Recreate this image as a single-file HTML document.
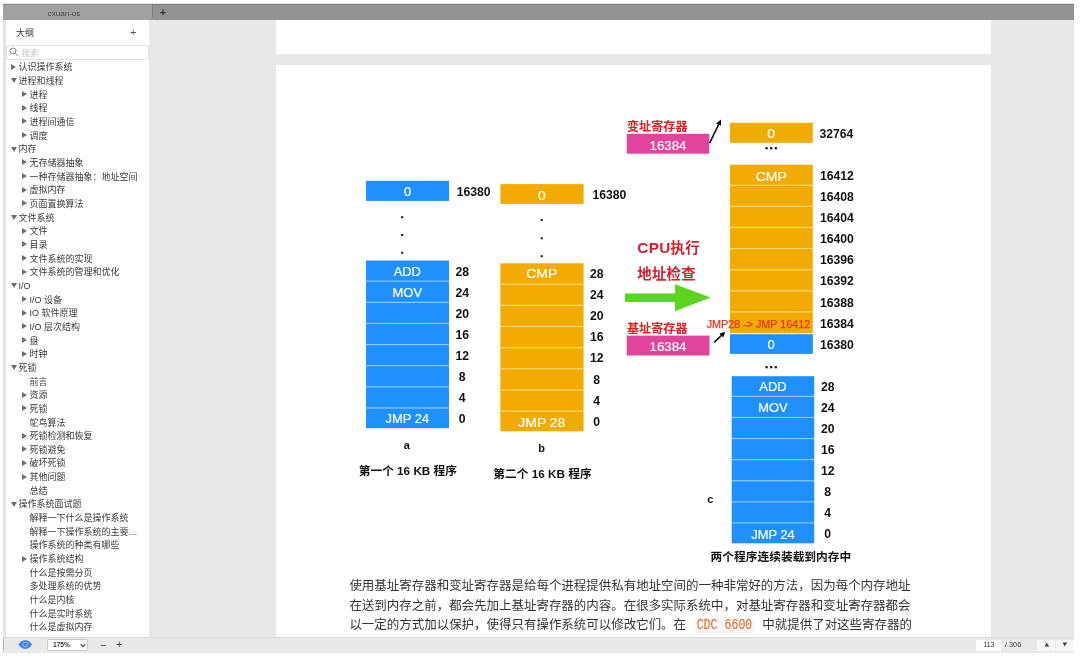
<!DOCTYPE html>
<html lang="zh-CN"><head><meta charset="utf-8"><title>cxuan-os</title>
<style>
html,body{margin:0;padding:0;background:#fff;}
body{width:1080px;height:659px;overflow:hidden;position:relative;font-family:"Liberation Sans","Noto Sans CJK SC",sans-serif;}
#app{position:absolute;left:3px;top:3px;width:1071px;height:649.5px;background:#e7e7e7;overflow:hidden;will-change:transform;}
#app *{position:absolute;box-sizing:border-box;}
#topbar{left:0;top:-0.5px;width:1071px;height:16.5px;background:#939393;border-top:1px solid #7d7d7d;}
#tab{left:0;top:-0.5px;width:150px;height:16.5px;background:#a1a1a1;border-top:1px solid #8a8a8a;border-right:1px solid #7e7e7e;border-radius:0 0 4px 0;}
#tabtxt{left:0;top:3.5px;width:122px;text-align:center;font-size:8.1px;line-height:11px;color:#4a4a4a;}
#tabplus{left:156.8px;top:2.2px;font-size:11px;line-height:12px;color:#333;font-weight:bold;}
#side{left:0;top:16px;width:146px;height:616.5px;background:#fff;border-left:3px solid #e3e3e3;}
#sidetitle{left:13px;top:22.5px;font-size:9px;line-height:12px;color:#333;}
#sideplus{left:126px;top:21px;font-size:11px;line-height:13px;color:#555;}
#search{left:3px;top:40.5px;width:142.5px;height:15px;border:1px solid #e2e2e2;border-radius:2px;background:#fff;}
#searchtxt{left:21.5px;top:42.5px;font-size:8.5px;line-height:12px;color:#c4c4c4;}
.tr{font-size:9px;line-height:14px;color:#3a3a3a;white-space:nowrap;}
.tc{width:0;height:0;border-left:5.4px solid #6e6e6e;border-top:3.2px solid transparent;border-bottom:3.2px solid transparent;}
.to{width:0;height:0;border-top:5px solid #6e6e6e;border-left:3.1px solid transparent;border-right:3.1px solid transparent;}
#p1{left:273px;top:16px;width:715px;height:34px;background:#fff;}
#p2{left:273px;top:61px;width:715px;height:571.5px;background:#fff;}
#dia{left:0;top:0;}
#dia text{font-family:"Liberation Sans","Noto Sans CJK SC",sans-serif;}
.w{fill:#fff;font-size:12.5px;stroke:#fff;stroke-width:0.2px;}
.o{font-size:13.3px;}
.p{font-size:13.3px;}
.b{fill:#111;font-size:12.2px;font-weight:bold;}
.s{font-size:11px;}
.cap{fill:#111;font-size:11.72px;font-weight:bold;}
.r12{fill:#dc2222;font-size:12.1px;font-weight:bold;}
.r14{fill:#d3202c;font-size:14.4px;font-weight:bold;letter-spacing:0.25px;}
.rj{fill:#ea3323;font-size:10.75px;stroke:#ea3323;stroke-width:0.25px;}
.para{left:346.4px;width:600px;font-size:12.485px;line-height:19px;color:#333;white-space:nowrap;}
.code{position:static !important;display:inline-block;vertical-align:baseline;font-family:"Liberation Mono",monospace;font-size:11.6px;line-height:14px;height:14.5px;color:#e0661f;background:#f7f7f7;padding:0 2.4px;margin:0 7.6px 0 8.2px;border-radius:2px;}
.code b{position:static !important;display:inline-block;font-weight:normal;transform:scale(1.0,1.27);transform-origin:50% 78%;}
#bot{left:0;top:632.5px;width:1071px;height:16px;background:#e9e9e9;border-top:1px solid #dadada;}
#zoom{left:43.6px;top:635.4px;width:41.7px;height:11.7px;background:#fff;border:1px solid #c9c9c9;border-radius:1.5px;}
#zoomtxt{left:50px;top:636.2px;font-weight:bold;font-size:6.6px;line-height:10px;color:#333;}
#minus{left:97px;top:634.5px;font-size:11px;line-height:12px;color:#444;}
#plus{left:113px;top:634.1px;font-size:11px;line-height:12px;color:#444;}
#pg{left:973.3px;top:636px;width:25px;height:10.5px;background:#fff;text-align:center;font-size:7px;line-height:10.5px;color:#333;}
#pgt{left:1002px;top:636px;font-size:7.3px;line-height:10.5px;color:#444;}
.nb{top:636px;width:18px;height:10.5px;background:#f7f7f7;}
</style></head><body>
<div id="app"><div id="in" style="left:0;top:1px;width:1071px;height:648.5px">
<div id="topbar"></div>
<div id="tab"></div><div id="tabtxt">cxuan-os</div><div id="tabplus">+</div>
<div id="side"></div>
<div id="p1"></div><div id="p2"></div>
<div id="tree" style="left:-3px;top:-4px;width:149px;height:640px;overflow:hidden">
<div id="sidetitle" style="left:16px;top:26.5px">大纲</div>
<div id="sideplus" style="left:130px;top:25.5px">+</div>
<div id="search" style="left:6px;top:44.5px"></div>
<svg style="left:8.5px;top:47px" width="10" height="10" viewBox="0 0 10 10"><circle cx="4" cy="4" r="3" fill="none" stroke="#7a7a7a" stroke-width="0.9"/><path d="M6.2 6.2L9 9" stroke="#7a7a7a" stroke-width="0.9"/></svg>
<div id="searchtxt" style="left:21.5px;top:46.5px">搜索</div>
<i class="tc" style="left:11.0px;top:63.7px"></i><div class="tr" style="left:18.5px;top:60.3px">认识操作系统</div>
<i class="to" style="left:10.5px;top:78.2px"></i><div class="tr" style="left:18.5px;top:74.0px">进程和线程</div>
<i class="tc" style="left:22.3px;top:91.0px"></i><div class="tr" style="left:29.5px;top:87.6px">进程</div>
<i class="tc" style="left:22.3px;top:104.7px"></i><div class="tr" style="left:29.5px;top:101.3px">线程</div>
<i class="tc" style="left:22.3px;top:118.3px"></i><div class="tr" style="left:29.5px;top:114.9px">进程间通信</div>
<i class="tc" style="left:22.3px;top:132.0px"></i><div class="tr" style="left:29.5px;top:128.6px">调度</div>
<i class="to" style="left:10.5px;top:146.5px"></i><div class="tr" style="left:18.5px;top:142.3px">内存</div>
<i class="tc" style="left:22.3px;top:159.3px"></i><div class="tr" style="left:29.5px;top:155.9px">无存储器抽象</div>
<i class="tc" style="left:22.3px;top:173.0px"></i><div class="tr" style="left:29.5px;top:169.6px">一种存储器抽象：地址空间</div>
<i class="tc" style="left:22.3px;top:186.6px"></i><div class="tr" style="left:29.5px;top:183.2px">虚拟内存</div>
<i class="tc" style="left:22.3px;top:200.3px"></i><div class="tr" style="left:29.5px;top:196.9px">页面置换算法</div>
<i class="to" style="left:10.5px;top:214.8px"></i><div class="tr" style="left:18.5px;top:210.6px">文件系统</div>
<i class="tc" style="left:22.3px;top:227.6px"></i><div class="tr" style="left:29.5px;top:224.2px">文件</div>
<i class="tc" style="left:22.3px;top:241.3px"></i><div class="tr" style="left:29.5px;top:237.9px">目录</div>
<i class="tc" style="left:22.3px;top:254.9px"></i><div class="tr" style="left:29.5px;top:251.5px">文件系统的实现</div>
<i class="tc" style="left:22.3px;top:268.6px"></i><div class="tr" style="left:29.5px;top:265.2px">文件系统的管理和优化</div>
<i class="to" style="left:10.5px;top:283.1px"></i><div class="tr" style="left:18.5px;top:278.9px">I/O</div>
<i class="tc" style="left:22.3px;top:295.9px"></i><div class="tr" style="left:29.5px;top:292.5px">I/O 设备</div>
<i class="tc" style="left:22.3px;top:309.6px"></i><div class="tr" style="left:29.5px;top:306.2px">IO 软件原理</div>
<i class="tc" style="left:22.3px;top:323.2px"></i><div class="tr" style="left:29.5px;top:319.8px">I/O 层次结构</div>
<i class="tc" style="left:22.3px;top:336.9px"></i><div class="tr" style="left:29.5px;top:333.5px">盘</div>
<i class="tc" style="left:22.3px;top:350.6px"></i><div class="tr" style="left:29.5px;top:347.2px">时钟</div>
<i class="to" style="left:10.5px;top:365.0px"></i><div class="tr" style="left:18.5px;top:360.8px">死锁</div>
<div class="tr" style="left:29.5px;top:374.5px">前言</div>
<i class="tc" style="left:22.3px;top:391.5px"></i><div class="tr" style="left:29.5px;top:388.1px">资源</div>
<i class="tc" style="left:22.3px;top:405.2px"></i><div class="tr" style="left:29.5px;top:401.8px">死锁</div>
<div class="tr" style="left:29.5px;top:415.5px">鸵鸟算法</div>
<i class="tc" style="left:22.3px;top:432.5px"></i><div class="tr" style="left:29.5px;top:429.1px">死锁检测和恢复</div>
<i class="tc" style="left:22.3px;top:446.2px"></i><div class="tr" style="left:29.5px;top:442.8px">死锁避免</div>
<i class="tc" style="left:22.3px;top:459.8px"></i><div class="tr" style="left:29.5px;top:456.4px">破坏死锁</div>
<i class="tc" style="left:22.3px;top:473.5px"></i><div class="tr" style="left:29.5px;top:470.1px">其他问题</div>
<div class="tr" style="left:29.5px;top:483.8px">总结</div>
<i class="to" style="left:10.5px;top:501.6px"></i><div class="tr" style="left:18.5px;top:497.4px">操作系统面试题</div>
<div class="tr" style="left:29.5px;top:511.1px">解释一下什么是操作系统</div>
<div class="tr" style="left:29.5px;top:524.7px">解释一下操作系统的主要…</div>
<div class="tr" style="left:29.5px;top:538.4px">操作系统的种类有哪些</div>
<i class="tc" style="left:22.3px;top:555.5px"></i><div class="tr" style="left:29.5px;top:552.1px">操作系统结构</div>
<div class="tr" style="left:29.5px;top:565.7px">什么是按需分页</div>
<div class="tr" style="left:29.5px;top:579.4px">多处理系统的优势</div>
<div class="tr" style="left:29.5px;top:593.0px">什么是内核</div>
<div class="tr" style="left:29.5px;top:606.7px">什么是实时系统</div>
<div class="tr" style="left:29.5px;top:620.4px">什么是虚拟内存</div>
</div>
<svg id="dia" style="left:-3px;top:-4px" width="1080" height="640" viewBox="0 0 1080 640">
<rect x="366" y="180.8" width="83" height="20.10" fill="#1e90ff"/>
<rect x="366" y="260.5" width="83" height="167.70" fill="#1e90ff"/><rect x="366" y="280.60" width="83" height="1.2" fill="#8ccaff"/><rect x="366" y="301.73" width="83" height="1.2" fill="#8ccaff"/><rect x="366" y="322.86" width="83" height="1.2" fill="#8ccaff"/><rect x="366" y="343.99" width="83" height="1.2" fill="#8ccaff"/><rect x="366" y="365.12" width="83" height="1.2" fill="#8ccaff"/><rect x="366" y="386.25" width="83" height="1.2" fill="#8ccaff"/><rect x="366" y="407.38" width="83" height="1.2" fill="#8ccaff"/>
<rect x="500.4" y="184.1" width="83.2" height="19.80" fill="#f2ab02"/>
<rect x="500.4" y="263.3" width="83.2" height="168.00" fill="#f2ab02"/><rect x="500.4" y="283.60" width="83.2" height="1.2" fill="#ffd978"/><rect x="500.4" y="304.75" width="83.2" height="1.2" fill="#ffd978"/><rect x="500.4" y="325.90" width="83.2" height="1.2" fill="#ffd978"/><rect x="500.4" y="347.05" width="83.2" height="1.2" fill="#ffd978"/><rect x="500.4" y="368.20" width="83.2" height="1.2" fill="#ffd978"/><rect x="500.4" y="389.35" width="83.2" height="1.2" fill="#ffd978"/><rect x="500.4" y="410.50" width="83.2" height="1.2" fill="#ffd978"/>
<rect x="730" y="122.8" width="82.8" height="20.00" fill="#f2ab02"/>
<rect x="730" y="164.7" width="82.8" height="168.50" fill="#f2ab02"/><rect x="730" y="184.70" width="82.8" height="1.2" fill="#ffd978"/><rect x="730" y="205.80" width="82.8" height="1.2" fill="#ffd978"/><rect x="730" y="226.90" width="82.8" height="1.2" fill="#ffd978"/><rect x="730" y="248.00" width="82.8" height="1.2" fill="#ffd978"/><rect x="730" y="269.10" width="82.8" height="1.2" fill="#ffd978"/><rect x="730" y="290.20" width="82.8" height="1.2" fill="#ffd978"/><rect x="730" y="311.30" width="82.8" height="1.2" fill="#ffd978"/>
<rect x="730" y="334.2" width="82.8" height="19.70" fill="#1e90ff"/>
<rect x="731.7" y="376.2" width="82.5" height="167.10" fill="#1e90ff"/><rect x="731.7" y="395.80" width="82.5" height="1.2" fill="#8ccaff"/><rect x="731.7" y="416.88" width="82.5" height="1.2" fill="#8ccaff"/><rect x="731.7" y="437.96" width="82.5" height="1.2" fill="#8ccaff"/><rect x="731.7" y="459.04" width="82.5" height="1.2" fill="#8ccaff"/><rect x="731.7" y="480.12" width="82.5" height="1.2" fill="#8ccaff"/><rect x="731.7" y="501.20" width="82.5" height="1.2" fill="#8ccaff"/><rect x="731.7" y="522.28" width="82.5" height="1.2" fill="#8ccaff"/>
<rect x="626.7" y="133.8" width="82.6" height="19.9" fill="#e2439b"/>
<rect x="626.7" y="335.6" width="82.8" height="19.9" fill="#e2439b"/>
<path d="M625 293.6H675V284.2L710.6 297.5L675 311.3V302H625Z" fill="#5bd51e"/>
<defs><marker id="ah" viewBox="0 0 10 10" refX="6" refY="5" markerWidth="5.6" markerHeight="5.6" markerUnits="userSpaceOnUse" orient="auto"><path d="M0 0L10 5L0 10z" fill="#0a0a0a"/></marker></defs>
<line x1="709.5" y1="143.3" x2="720" y2="121.6" stroke="#0a0a0a" stroke-width="1.5" marker-end="url(#ah)"/>
<line x1="714.2" y1="342.4" x2="723.6" y2="333.3" stroke="#0a0a0a" stroke-width="1.5" marker-end="url(#ah)"/>
<text transform="translate(407.50,196.15) scale(1.035,1)" class="w" text-anchor="middle">0</text>
<text transform="translate(407.30,275.65) scale(1.035,1)" class="w" text-anchor="middle">ADD</text>
<text transform="translate(407.30,296.75) scale(1.035,1)" class="w" text-anchor="middle">MOV</text>
<text transform="translate(407.30,423.25) scale(1.035,1)" class="w" text-anchor="middle">JMP 24</text>
<text transform="translate(541.80,199.75) scale(1.05,1)" class="w o" text-anchor="middle">0</text>
<text transform="translate(541.80,278.45) scale(1.05,1)" class="w o" text-anchor="middle">CMP</text>
<text transform="translate(541.80,427.25) scale(1.05,1)" class="w o" text-anchor="middle">JMP 28</text>
<text transform="translate(771.00,138.05) scale(1.05,1)" class="w o" text-anchor="middle">0</text>
<text transform="translate(771.30,180.55) scale(1.05,1)" class="w o" text-anchor="middle">CMP</text>
<text transform="translate(771.00,349.45) scale(1.035,1)" class="w" text-anchor="middle">0</text>
<text transform="translate(773.00,391.15) scale(1.035,1)" class="w" text-anchor="middle">ADD</text>
<text transform="translate(773.00,411.65) scale(1.035,1)" class="w" text-anchor="middle">MOV</text>
<text transform="translate(773.00,538.65) scale(1.035,1)" class="w" text-anchor="middle">JMP 24</text>
<text x="668.00" y="149.50" class="w p" text-anchor="middle" >16384</text>
<text x="668.00" y="351.10" class="w p" text-anchor="middle" >16384</text>
<text x="456.70" y="195.80" class="b" text-anchor="start" >16380</text>
<text x="455.50" y="275.70" class="b" text-anchor="start" >28</text>
<text x="455.50" y="296.76" class="b" text-anchor="start" >24</text>
<text x="455.50" y="317.82" class="b" text-anchor="start" >20</text>
<text x="455.50" y="338.88" class="b" text-anchor="start" >16</text>
<text x="455.50" y="359.94" class="b" text-anchor="start" >12</text>
<text x="458.70" y="381.00" class="b" text-anchor="start" >8</text>
<text x="458.70" y="402.06" class="b" text-anchor="start" >4</text>
<text x="458.70" y="423.12" class="b" text-anchor="start" >0</text>
<text x="592.50" y="198.60" class="b" text-anchor="start" >16380</text>
<text x="590.00" y="278.10" class="b" text-anchor="start" >28</text>
<text x="590.00" y="299.19" class="b" text-anchor="start" >24</text>
<text x="590.00" y="320.28" class="b" text-anchor="start" >20</text>
<text x="590.00" y="341.37" class="b" text-anchor="start" >16</text>
<text x="590.00" y="362.46" class="b" text-anchor="start" >12</text>
<text x="593.30" y="383.55" class="b" text-anchor="start" >8</text>
<text x="593.30" y="404.64" class="b" text-anchor="start" >4</text>
<text x="593.30" y="425.73" class="b" text-anchor="start" >0</text>
<text x="819.50" y="137.70" class="b" text-anchor="start" >32764</text>
<text x="820.00" y="179.70" class="b" text-anchor="start" >16412</text>
<text x="820.00" y="200.84" class="b" text-anchor="start" >16408</text>
<text x="820.00" y="221.98" class="b" text-anchor="start" >16404</text>
<text x="820.00" y="243.12" class="b" text-anchor="start" >16400</text>
<text x="820.00" y="264.26" class="b" text-anchor="start" >16396</text>
<text x="820.00" y="285.40" class="b" text-anchor="start" >16392</text>
<text x="820.00" y="306.54" class="b" text-anchor="start" >16388</text>
<text x="820.00" y="327.68" class="b" text-anchor="start" >16384</text>
<text x="820.00" y="349.10" class="b" text-anchor="start" >16380</text>
<text x="821.00" y="390.70" class="b" text-anchor="start" >28</text>
<text x="821.00" y="411.77" class="b" text-anchor="start" >24</text>
<text x="821.00" y="432.84" class="b" text-anchor="start" >20</text>
<text x="821.00" y="453.91" class="b" text-anchor="start" >16</text>
<text x="821.00" y="474.98" class="b" text-anchor="start" >12</text>
<text x="824.30" y="496.05" class="b" text-anchor="start" >8</text>
<text x="824.30" y="517.12" class="b" text-anchor="start" >4</text>
<text x="824.30" y="538.19" class="b" text-anchor="start" >0</text>
<rect x="401.2" y="216.2" width="2" height="2" fill="#111"/>
<rect x="401.2" y="234" width="2" height="2" fill="#111"/>
<rect x="401.2" y="251.8" width="2" height="2" fill="#111"/>
<rect x="540.7" y="219" width="2" height="2" fill="#111"/>
<rect x="540.7" y="237.3" width="2" height="2" fill="#111"/>
<rect x="540.7" y="255.2" width="2" height="2" fill="#111"/>
<rect x="765.5" y="147.1" width="2.2" height="2.2" fill="#111"/>
<rect x="770.1" y="147.1" width="2.2" height="2.2" fill="#111"/>
<rect x="774.7" y="147.1" width="2.2" height="2.2" fill="#111"/>
<rect x="765.5" y="366.1" width="2.2" height="2.2" fill="#111"/>
<rect x="770.1" y="366.1" width="2.2" height="2.2" fill="#111"/>
<rect x="774.7" y="366.1" width="2.2" height="2.2" fill="#111"/>
<text x="406.70" y="448.70" class="b s" text-anchor="middle" >a</text>
<text x="541.70" y="452.00" class="b s" text-anchor="middle" >b</text>
<text x="710.30" y="503.20" class="b s" text-anchor="middle" >c</text>
<text x="358.70" y="475.00" class="cap" text-anchor="start" >第一个 16 KB 程序</text>
<text x="493.30" y="477.50" class="cap" text-anchor="start" >第二个 16 KB 程序</text>
<text x="710.60" y="560.60" class="cap" text-anchor="start" >两个程序连续装载到内存中</text>
<text x="627.00" y="130.50" class="r12" text-anchor="start" >变址寄存器</text>
<text x="627.00" y="333.00" class="r12" text-anchor="start" >基址寄存器</text>
<text x="637.30" y="252.60" class="r14" text-anchor="start" ><tspan style="font-size:15.4px">CPU</tspan>执行</text>
<text x="637.30" y="278.60" class="r14" text-anchor="start" >地址检查</text>
<text x="706.70" y="327.60" class="rj" text-anchor="start" >JMP28 -&gt; JMP 16412</text>
</svg>
<div class="para" style="top:573px">使用基址寄存器和变址寄存器是给每个进程提供私有地址空间的一种非常好的方法，因为每个内存地址</div>
<div class="para" style="top:592.5px">在送到内存之前，都会先加上基址寄存器的内容。在很多实际系统中，对基址寄存器和变址寄存器都会</div>
<div class="para" style="top:611.6px">以一定的方式加以保护，使得只有操作系统可以修改它们。在<span class="code"><b>CDC 6600</b></span>中就提供了对这些寄存器的</div>
<div id="bot"></div><div style="left:0;top:634px;width:1px;height:13px;background:#b4b4b4"></div>
<svg style="left:15.3px;top:636.1px" width="14.5" height="9.2" viewBox="0 0 15 10" preserveAspectRatio="none"><path d="M0.5 5C3 1 5.5 0.3 7.5 0.3S12 1 14.5 5C12 9 9.5 9.7 7.5 9.7S3 9 0.5 5Z" fill="#3b82f6"/><circle cx="7.5" cy="5" r="2.9" fill="#8fbcff"/><circle cx="7.5" cy="5" r="1.9" fill="#3b82f6"/></svg>
<div id="zoom"></div><div id="zoomtxt">175%</div>
<svg style="left:77px;top:638.8px" width="6" height="5" viewBox="0 0 6 5"><path d="M0.7 1L3 3.6L5.3 1" fill="none" stroke="#333" stroke-width="1.1"/></svg>
<div id="minus">−</div><div id="plus">+</div>
<div id="pg">113</div><div id="pgt">/ 306</div>
<div class="nb" style="left:1034px"></div><div class="nb" style="left:1053px"></div>
<svg style="left:1040.6px;top:637.8px" width="5.6" height="5" viewBox="0 0 6 6"><path d="M3 0.5L5.7 5.3H0.3Z" fill="#444"/></svg>
<svg style="left:1058.7px;top:637.8px" width="5.6" height="5" viewBox="0 0 6 6"><path d="M3 5.5L5.7 0.7H0.3Z" fill="#444"/></svg>
</div></div>
</body></html>
